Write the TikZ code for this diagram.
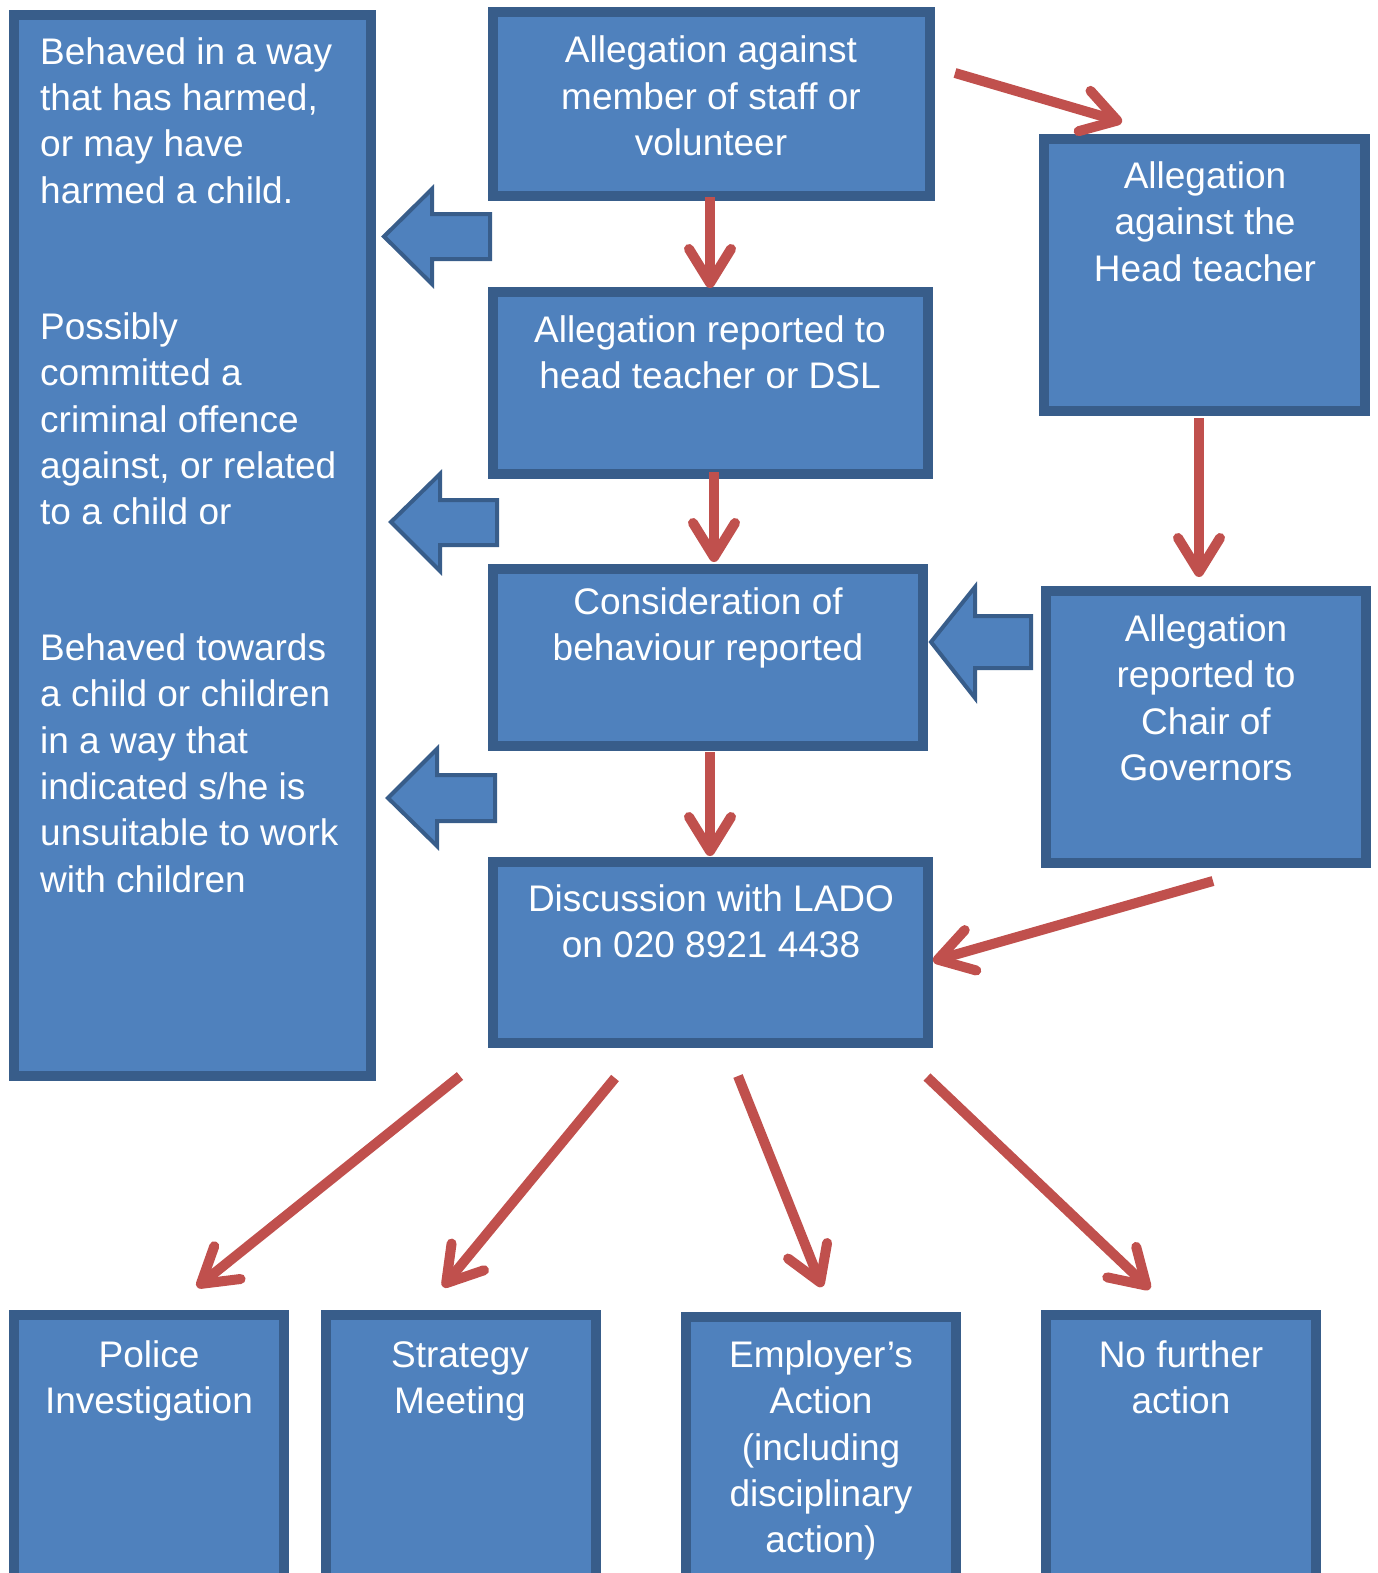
\documentclass[tikz,border=0pt]{standalone}
\usepackage{fontspec}
\setmainfont{Liberation Sans}
\usetikzlibrary{arrows.meta,calc}
\definecolor{blu}{RGB}{79,129,189}
\definecolor{bord}{RGB}{56,93,138}
\definecolor{redarr}{RGB}{192,80,77}
\newcommand{\fst}{\rule{0pt}{30pt}}
\begin{document}
\begin{tikzpicture}[x=1pt,y=-1pt,
  box/.style={draw=bord, fill=blu, line width=10pt, inner sep=0pt, anchor=north west},
  txt/.style={text=white, font=\fontsize{37}{46.4}\selectfont, inner sep=0pt, align=center, anchor=north},
  ltxt/.style={text=white, font=\fontsize{37}{46.4}\selectfont, inner sep=0pt, align=left, anchor=north west},
  blk/.style={draw=bord, fill=blu, line width=4pt, line join=miter},
  rarr/.style={draw=redarr, line width=10pt, -{Straight Barb[length=34pt,width=42pt,round]}}]
\useasboundingbox (0,0) rectangle (1377,1573);
\clip (0,0) rectangle (1377,1573);

% boxes (outer corner, outer size minus border)
\node[box, minimum width=357pt, minimum height=1061pt] (L)  at (9,10) {};
\node[box, minimum width=437pt, minimum height=184pt]  (T1) at (488,7) {};
\node[box, minimum width=435pt, minimum height=182pt]  (H)  at (488,287) {};
\node[box, minimum width=430pt, minimum height=177pt]  (C)  at (488,564) {};
\node[box, minimum width=435pt, minimum height=181pt]  (D)  at (488,857) {};
\node[box, minimum width=321pt, minimum height=272pt]  (R1) at (1039,134) {};
\node[box, minimum width=320pt, minimum height=272pt]  (R2) at (1041,586) {};
\node[box, minimum width=270pt, minimum height=290pt]  (P)  at (9,1310) {};
\node[box, minimum width=270pt, minimum height=290pt]  (S)  at (321,1310) {};
\node[box, minimum width=270pt, minimum height=290pt]  (E)  at (681,1312) {};
\node[box, minimum width=270pt, minimum height=290pt]  (N)  at (1041,1310) {};

% texts
\node[ltxt] (Lt1) at (40,34) {\fst Behaved in a way\\that has harmed,\\or may have\\harmed a child.};
\node[ltxt] (Lt2) at (40,309) {\fst Possibly\\committed a\\criminal offence\\against, or related\\to a child or};
\node[ltxt] (Lt3) at (40,630) {\fst Behaved towards\\a child or children\\in a way that\\indicated s/he is\\unsuitable to work\\with children};
\node[txt] (T1t) at (711,32.5) {\fst Allegation against\\member of staff or\\volunteer};
\node[txt] (Ht)  at (710,312) {\fst Allegation reported to\\head teacher or DSL};
\node[txt] (Ct)  at (708,584) {\fst Consideration of\\behaviour reported};
\node[txt] (Dt)  at (711,881) {\fst Discussion with LADO\\on 020 8921 4438};
\node[txt] (R1t) at (1205,158) {\fst Allegation\\against the\\Head teacher};
\node[txt] (R2t) at (1206,611) {\fst Allegation\\reported to\\Chair of\\Governors};
\node[txt] (Pt)  at (149,1337) {\fst Police\\Investigation};
\node[txt] (St)  at (460,1337) {\fst Strategy\\Meeting};
\node[txt] (Et)  at (821,1337) {\fst Employer’s\\Action\\(including\\disciplinary\\action)};
\node[txt] (Nt)  at (1181,1337) {\fst No further\\action};

% block arrows (left-pointing)
\draw[blk] (384,236.5) -- (432,189) -- (432,214) -- (490,214) -- (490,259) -- (432,259) -- (432,284) -- cycle;
\draw[blk] (391,522) -- (440,474) -- (440,500) -- (497,500) -- (497,545) -- (440,545) -- (440,571) -- cycle;
\draw[blk] (388,798) -- (437,749) -- (437,775) -- (495,775) -- (495,821) -- (437,821) -- (437,846) -- cycle;
\draw[blk] (931,642) -- (975,587) -- (975,616) -- (1031,616) -- (1031,668) -- (975,668) -- (975,698) -- cycle;

% connector end points
\coordinate (a1s) at (955,73);   \coordinate (a1e) at (1122,122);
\coordinate (a2s) at (710,197);  \coordinate (a2e) at (710,288);
\coordinate (a3s) at (714,472);  \coordinate (a3e) at (714,562);
\coordinate (a4s) at (1199,418); \coordinate (a4e) at (1199,577);
\coordinate (a5s) at (710,752);  \coordinate (a5e) at (710,856);
\coordinate (a6s) at (1213,881); \coordinate (a6e) at (933,961);
\coordinate (a7s) at (460,1076); \coordinate (a7e) at (197,1287);
\coordinate (a8s) at (615,1078); \coordinate (a8e) at (443,1287);
\coordinate (a9s) at (738,1076); \coordinate (a9e) at (822,1287);
\coordinate (a10s) at (927,1077); \coordinate (a10e) at (1150,1289);

\draw[rarr] (a1s) -- (a1e);
\draw[rarr] (a2s) -- (a2e);
\draw[rarr] (a3s) -- (a3e);
\draw[rarr] (a4s) -- (a4e);
\draw[rarr] (a5s) -- (a5e);
\draw[rarr] (a6s) -- (a6e);
\draw[rarr] (a7s) -- (a7e);
\draw[rarr] (a8s) -- (a8e);
\draw[rarr] (a9s) -- (a9e);
\draw[rarr] (a10s) -- (a10e);
\end{tikzpicture}
\end{document}
